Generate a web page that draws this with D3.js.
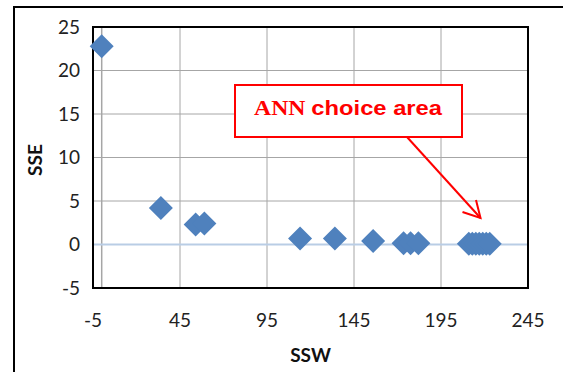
<!DOCTYPE html>
<html>
<head>
<meta charset="utf-8">
<script src="https://cdn.jsdelivr.net/npm/d3@7"></script>
<style>
  html, body { margin: 0; padding: 0; background: #fff; }
  svg { display: block; }
  .tick-label { font-family: Lato, "Open Sans", sans-serif; font-size: 19px; fill: #222; }
  .axis-title { font-family: Lato, "Open Sans", sans-serif; font-size: 19px; font-weight: 700; fill: #111; }
</style>
</head>
<body>
<svg id="chart" width="563" height="372"></svg>
<script>
const sswValues = [0, 34, 54, 59, 114, 134, 156, 173.5, 177.5, 182, 211, 213, 215, 217, 219, 221, 223];
const sseValues = [22.8, 4.2, 2.3, 2.4, 0.7, 0.7, 0.4, 0.15, 0.15, 0.15, 0.1, 0.1, 0.1, 0.1, 0.1, 0.1, 0.1];
const xTicks = [-5, 45, 95, 145, 195, 245];
const yTicks = [-5, 0, 5, 10, 15, 20, 25];
const xTitle = "SSW";
const yTitle = "SSE";

const data = sswValues.map((v, i) => ({ x: v, y: sseValues[i] }));

const svg = d3.select("#chart");
const margin = { top: 27, right: 35, bottom: 84, left: 93 };
const width = 563, height = 372;
const innerW = width - margin.left - margin.right;
const innerH = height - margin.top - margin.bottom;

// outer chart frame (extends past the picture on the right and bottom)
svg.append("rect")
  .attr("x", 14).attr("y", 7)
  .attr("width", 600).attr("height", 400)
  .attr("fill", "none").attr("stroke", "#000").attr("stroke-width", 2);

const g = svg.append("g").attr("transform", `translate(${margin.left},${margin.top})`);

const x = d3.scaleLinear().domain([-5, 245]).range([0, innerW]);
const y = d3.scaleLinear().domain([-5, 25]).range([innerH, 0]);

// grid
g.append("g")
  .selectAll("line")
  .data(xTicks)
  .join("line")
  .attr("x1", (d) => x(d)).attr("x2", (d) => x(d))
  .attr("y1", 0).attr("y2", innerH)
  .attr("stroke", "#a6a6a6").attr("stroke-width", 1);

g.append("g")
  .selectAll("line")
  .data(yTicks)
  .join("line")
  .attr("x1", 0).attr("x2", innerW)
  .attr("y1", (d) => y(d)).attr("y2", (d) => y(d))
  .attr("stroke", "#a6a6a6").attr("stroke-width", 1);

// vertical axis line at x = 0
g.append("line")
  .attr("x1", x(0)).attr("x2", x(0))
  .attr("y1", 0).attr("y2", innerH)
  .attr("stroke", "#a6a6a6").attr("stroke-width", 1.5);

// horizontal axis line at y = 0
g.append("line")
  .attr("x1", 0).attr("x2", innerW)
  .attr("y1", y(0)).attr("y2", y(0))
  .attr("stroke", "#b9cde5").attr("stroke-width", 2);

// plot area border
g.append("rect")
  .attr("width", innerW).attr("height", innerH)
  .attr("fill", "none").attr("stroke", "#000").attr("stroke-width", 2);

// tick labels
g.append("g")
  .selectAll("text")
  .data(yTicks)
  .join("text")
  .attr("class", "tick-label")
  .attr("x", -13)
  .attr("y", (d) => y(d))
  .attr("dy", "0.36em")
  .attr("text-anchor", "end")
  .text((d) => d);

g.append("g")
  .selectAll("text")
  .data(xTicks)
  .join("text")
  .attr("class", "tick-label")
  .attr("x", (d) => x(d))
  .attr("y", innerH + 32)
  .attr("dy", "0.36em")
  .attr("text-anchor", "middle")
  .text((d) => d);

// axis titles
g.append("text")
  .attr("class", "axis-title")
  .attr("transform", `translate(${35 - margin.left},${160 - margin.top}) rotate(-90)`)
  .attr("dy", "0.36em")
  .attr("text-anchor", "middle")
  .text(yTitle);

g.append("text")
  .attr("class", "axis-title")
  .attr("x", innerW / 2)
  .attr("y", innerH + 67)
  .attr("dy", "0.36em")
  .attr("text-anchor", "middle")
  .text(xTitle);

// diamonds
const diamond = d3.symbol().type(d3.symbolSquare).size(288);
g.append("g")
  .selectAll("path")
  .data(data)
  .join("path")
  .attr("d", diamond)
  .attr("transform", (d) => `translate(${x(d.x)},${y(d.y)}) rotate(45)`)
  .attr("fill", "#4f81bd");

// annotation
const ann = svg.append("g");
ann.append("rect")
  .attr("x", 235).attr("y", 85)
  .attr("width", 227).attr("height", 52)
  .attr("fill", "#fff").attr("stroke", "#ff0000").attr("stroke-width", 2);

const annText = ann.append("text")
  .attr("x", 254).attr("y", 115)
  .attr("text-anchor", "start")
  .attr("fill", "#ff0000")
  .attr("font-weight", 700)
  .attr("font-size", 20)
  .attr("textLength", 188)
  .attr("lengthAdjust", "spacingAndGlyphs");
annText.append("tspan")
  .attr("font-family", "'Liberation Serif', 'DejaVu Serif', serif")
  .text("ANN ");
annText.append("tspan")
  .attr("font-family", "'Liberation Sans', Arial, sans-serif")
  .text("choice area");

ann.append("line")
  .attr("x1", 407).attr("y1", 137)
  .attr("x2", 480.5).attr("y2", 218)
  .attr("stroke", "#ff0000").attr("stroke-width", 2);
ann.append("path")
  .attr("d", "M462.5,212 L480.5,218 L476,200")
  .attr("fill", "none").attr("stroke", "#ff0000").attr("stroke-width", 2);
</script>
</body>
</html>
